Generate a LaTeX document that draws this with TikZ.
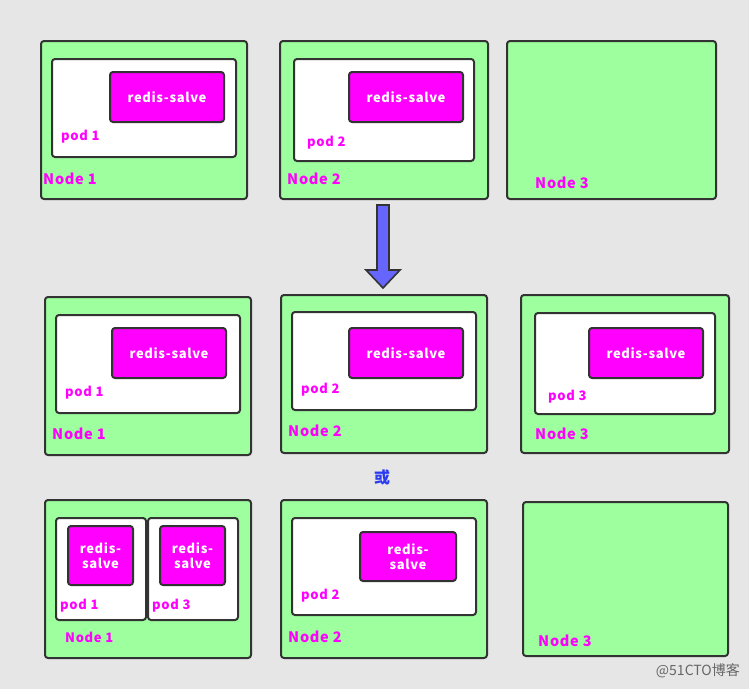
\documentclass[tikz,border=0pt]{standalone}
\usepackage{fontspec}
\setmainfont{Noto Sans CJK SC}
\newfontfamily\lblfont{Noto Sans CJK SC}[LetterSpace=5]
\definecolor{bg}{HTML}{E6E6E6}
\definecolor{grn}{HTML}{9EFF9E}
\definecolor{mag}{HTML}{FF00FF}
\definecolor{edge}{HTML}{333333}
\definecolor{arr}{HTML}{6666FF}
\definecolor{orblue}{HTML}{2B3BF0}
\newcommand\bx[6]{\node[#2,anchor=north west,minimum width={#5pt-#3pt},minimum height={#6pt-#4pt}] (#1) at (#3,#4) {};}
\begin{document}
\begin{tikzpicture}[x=1pt,y=-1pt,
  base/.style={draw=edge,line width=2pt,rounded corners=3pt,inner sep=0pt},
  hostbox/.style={base,fill=grn},
  podbox/.style={base,fill=white},
  redisbox/.style={base,fill=mag},
  rtext/.style={text=white,font=\lblfont\bfseries\fontsize{13}{15.5}\selectfont,align=center},
  podlbl/.style={text=mag,font=\lblfont\bfseries\fontsize{13}{15}\selectfont,anchor=west,inner sep=0pt},
  hostlbl/.style={text=mag,font=\lblfont\bfseries\fontsize{14.5}{16}\selectfont,anchor=west,inner sep=0pt}]
\useasboundingbox[fill=bg] (0,0) rectangle (749,689);
% Row 1
\bx{a1}{hostbox}{40}{40}{246}{198}
\bx{a1p}{podbox}{51}{58}{235}{156}
\bx{a1r}{redisbox}{109}{71}{223}{121}
\node[rtext] (a1rt) at (a1r.center) {redis-salve};
\node[podlbl] (a1pl) at (61,137) {pod 1};
\node[hostlbl] (a1l) at (43,179) {Node 1};
\bx{a2}{hostbox}{279}{40}{487}{198}
\bx{a2p}{podbox}{293}{58}{473}{160}
\bx{a2r}{redisbox}{348}{71}{462}{121}
\node[rtext] (a2rt) at (a2r.center) {redis-salve};
\node[podlbl] (a2pl) at (307,143) {pod 2};
\node[hostlbl] (a2l) at (287,179) {Node 2};
\bx{a3}{hostbox}{506}{40}{715}{198}
\node[hostlbl] (a3l) at (535,183) {Node 3};
% Arrow
\draw[draw=edge,line width=1.6pt,fill=arr,line join=miter]
  (377,205) -- (389,205) -- (389,270) -- (400,270) -- (383,288) -- (366,270) -- (377,270) -- cycle;
% Row 2
\bx{b1}{hostbox}{44}{296}{250}{454}
\bx{b1p}{podbox}{55}{314}{239}{412}
\bx{b1r}{redisbox}{111}{327}{225}{377}
\node[rtext] (b1rt) at (b1r.center) {redis-salve};
\node[podlbl] (b1pl) at (65,393) {pod 1};
\node[hostlbl] (b1l) at (52,434) {Node 1};
\bx{b2}{hostbox}{280}{294}{486}{452}
\bx{b2p}{podbox}{291}{311}{475}{409}
\bx{b2r}{redisbox}{348}{327}{462}{377}
\node[rtext] (b2rt) at (b2r.center) {redis-salve};
\node[podlbl] (b2pl) at (301,390) {pod 2};
\node[hostlbl] (b2l) at (288,431) {Node 2};
\bx{b3}{hostbox}{520}{294}{728}{452}
\bx{b3p}{podbox}{534}{312}{714}{413}
\bx{b3r}{redisbox}{588}{327}{702}{377}
\node[rtext] (b3rt) at (b3r.center) {redis-salve};
\node[podlbl] (b3pl) at (548,397) {pod 3};
\node[hostlbl] (b3l) at (535,434) {Node 3};
\node[text=orblue,font=\bfseries\fontsize{16}{18}\selectfont] (or) at (382,477) {或};
% Row 3
\bx{c1}{hostbox}{44}{499}{250}{657}
\bx{c1p}{podbox}{55}{517}{145}{619}
\bx{c1r}{redisbox}{67}{525}{132}{584}
\node[rtext] (c1rt) at (c1r.center) {redis-\\salve};
\bx{c1q}{podbox}{147}{517}{237}{619}
\bx{c1s}{redisbox}{159}{525}{224}{584}
\node[rtext] (c1st) at (c1s.center) {redis-\\salve};
\node[podlbl] (c1pl) at (60,606) {pod 1};
\node[podlbl] (c1ql) at (152,606) {pod 3};
\node[hostlbl,font=\lblfont\bfseries\fontsize{13}{15}\selectfont] (c1l) at (65,637) {Node 1};
\bx{c2}{hostbox}{280}{499}{486}{657}
\bx{c2p}{podbox}{291}{517}{475}{614}
\bx{c2r}{redisbox}{359}{531}{455}{580}
\node[rtext] (c2rt) at (c2r.center) {redis-\\salve};
\node[podlbl] (c2pl) at (301,596) {pod 2};
\node[hostlbl] (c2l) at (288,637) {Node 2};
\bx{c3}{hostbox}{522}{501}{727}{655}
\node[hostlbl] (c3l) at (538,641) {Node 3};
% watermark
\node[text=black!60,font=\fontsize{14}{16}\selectfont,anchor=east,inner sep=0pt] (wm) at (740,671) {@51CTO博客};
\end{tikzpicture}
\end{document}
